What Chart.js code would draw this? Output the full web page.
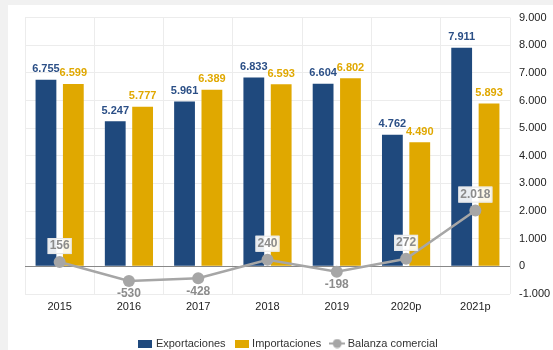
<!DOCTYPE html>
<html>
<head>
<meta charset="utf-8">
<script src="https://cdn.jsdelivr.net/npm/chart.js@4"></script>
<style>
  html, body { margin: 0; padding: 0; background: #f1f1f1; overflow: hidden; height: 350px; }
  #panel { position: absolute; left: 8px; top: 5px; width: 545px; height: 345px; background: #fff; }
  #wrap { position: absolute; left: 8px; top: 2px; width: 545px; height: 357px; }
</style>
</head>
<body>
<div id="panel"></div>
<div id="wrap"><canvas id="ctx"></canvas></div>
<script>
// Data
const categories = ['2015', '2016', '2017', '2018', '2019', '2020p', '2021p'];
const exportaciones = [6755, 5247, 5961, 6833, 6604, 4762, 7911];
const importaciones = [6599, 5777, 6389, 6593, 6802, 4490, 5893];
const balanza = [156, -530, -428, 240, -198, 272, 2018];
const yTicks = { min: -1000, max: 9000, step: 1000 };

const blue = '#1f497d';
const gold = '#e0a800';
const grey = '#a6a6a6';

const fmt = v => {
  const s = Math.abs(v).toString().replace(/\B(?=(\d{3})+(?!\d))/g, '.');
  return (v < 0 ? '-' : '') + s;
};

// legend icons
function icon(w, h, draw) {
  const c = document.createElement('canvas');
  c.width = w; c.height = h;
  draw(c.getContext('2d'));
  return c;
}
const icons = [
  icon(14, 8, g => { g.fillStyle = blue; g.fillRect(0, 0, 14, 8); }),
  icon(14, 8, g => { g.fillStyle = gold; g.fillRect(0, 0, 14, 8); }),
  icon(16, 10, g => {
    g.strokeStyle = grey; g.lineWidth = 2;
    g.beginPath(); g.moveTo(0, 5); g.lineTo(16, 5); g.stroke();
    g.fillStyle = grey; g.beginPath(); g.arc(8, 5, 4.5, 0, Math.PI * 2); g.fill();
  })
];

// value labels
const valueLabels = {
  id: 'valueLabels',
  afterDatasetsDraw(chart) {
    const c = chart.ctx;
    c.save();
    c.textAlign = 'center';
    chart.data.datasets.forEach((ds, i) => {
      const meta = chart.getDatasetMeta(i);
      meta.data.forEach((el, j) => {
        const v = ds.data[j];
        const txt = fmt(v);
        if (ds.type === 'line') {
          c.font = 'bold 12px "Liberation Sans", Arial, sans-serif';
          c.textBaseline = 'middle';
          if (v >= 0) {
            const y = el.y - 16;
            const w = c.measureText(txt).width;
            c.fillStyle = 'rgba(255,255,255,0.9)';
            c.fillRect(el.x - w / 2 - 2, y - 8, w + 4, 16);
            c.strokeStyle = '#e6e6e6';
            c.lineWidth = 1;
            c.strokeRect(el.x - w / 2 - 2 + 0.5, y - 8 + 0.5, w + 3, 15);
            c.fillStyle = '#8c8c8c';
            c.fillText(txt, el.x, y);
          } else {
            c.fillStyle = '#8c8c8c';
            c.fillText(txt, el.x, el.y + 13);
          }
        } else {
          c.font = 'bold 11px "Liberation Sans", Arial, sans-serif';
          c.textBaseline = 'bottom';
          c.fillStyle = i === 0 ? '#2b4f86' : gold;
          c.fillText(txt, el.x, el.y - 5);
        }
      });
    });
    c.restore();
  }
};

Chart.defaults.font.family = '"Liberation Sans", Arial, sans-serif';
Chart.defaults.font.size = 11;
Chart.defaults.color = '#333';

new Chart(document.getElementById('ctx'), {
  data: {
    labels: categories,
    datasets: [
      {
        type: 'bar',
        label: 'Exportaciones',
        data: exportaciones,
        backgroundColor: blue,
        categoryPercentage: 0.79,
        barPercentage: 0.76,
        order: 1
      },
      {
        type: 'bar',
        label: 'Importaciones',
        data: importaciones,
        backgroundColor: gold,
        categoryPercentage: 0.79,
        barPercentage: 0.76,
        order: 1
      },
      {
        type: 'line',
        label: 'Balanza comercial',
        data: balanza,
        borderColor: grey,
        backgroundColor: grey,
        borderWidth: 2.5,
        pointRadius: 6,
        pointBackgroundColor: grey,
        pointBorderWidth: 0,
        tension: 0,
        order: 0
      }
    ]
  },
  options: {
    responsive: true,
    maintainAspectRatio: false,
    animation: false,
    layout: { padding: { left: 17, top: 8, right: 0, bottom: 0 } },
    plugins: {
      tooltip: { enabled: false },
      legend: {
        position: 'bottom',
        labels: {
          usePointStyle: true,
          pointStyleWidth: 10,
          boxHeight: 8,
          padding: 11,
          color: '#333',
          font: { size: 11 },
          sort: (a, b) => a.datasetIndex - b.datasetIndex,
          generateLabels(chart) {
            const items = Chart.defaults.plugins.legend.labels.generateLabels(chart);
            items.forEach(it => { it.pointStyle = icons[it.datasetIndex]; });
            return items;
          }
        }
      }
    },
    scales: {
      x: {
        grid: { offset: true, color: '#ececec', drawTicks: false },
        border: { display: false },
        ticks: { padding: 6, color: '#222', font: { size: 11 } },
        afterFit(scale) { scale.height = 33; }
      },
      y: {
        position: 'right',
        min: yTicks.min,
        max: yTicks.max,
        border: { display: false },
        grid: {
          drawTicks: false,
          color: c => c.tick.value === 0 ? '#888' : '#ececec'
        },
        ticks: {
          stepSize: yTicks.step,
          padding: 9,
          color: '#222',
          callback: v => fmt(v)
        },
        afterFit(scale) { scale.width = 43; }
      }
    }
  },
  plugins: [valueLabels]
});
</script>
</body>
</html>
